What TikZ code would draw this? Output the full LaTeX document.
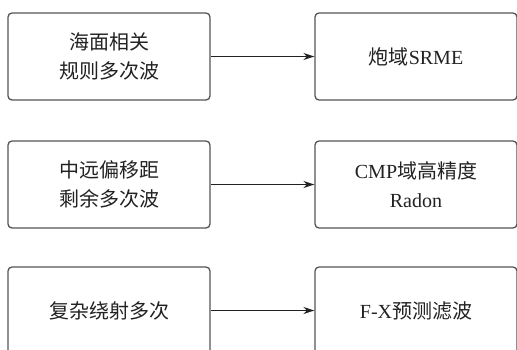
\documentclass[tikz,border=0pt]{standalone}
\usepackage{fontspec}
\setmainfont{Liberation Serif}
\newfontfamily\cjk{Noto Sans CJK SC}
\usetikzlibrary{arrows.meta}
\definecolor{edge}{HTML}{555555}
\definecolor{ink}{HTML}{222222}
\tikzset{
  box/.style={draw=edge, line width=1.3pt, rounded corners=4pt, minimum width=202pt, minimum height=87pt, inner sep=0pt, align=center, text=ink, font=\fontsize{20}{29}\selectfont},
  conn/.style={draw=ink, line width=1.3pt, -{Stealth[length=11pt,width=7pt]}}
}
\begin{document}
\begin{tikzpicture}[x=1pt,y=-1pt]
\clip (0,0) rectangle (517,349);
\useasboundingbox (0,0) rectangle (517,349);
\fill[white] (0,0) rectangle (517,349);
\node[box] (a1) at (109,56.5) {\cjk 海面相关\\\cjk 规则多次波};
\node[box] (b1) at (416,56.5) {{\cjk 炮域}SRME};
\node[box] (a2) at (109,184.5) {\cjk 中远偏移距\\\cjk 剩余多次波};
\node[box] (b2) at (416,184.5) {CMP{\cjk 域高精度}\\Radon};
\node[box] (a3) at (109,310.5) {\cjk 复杂绕射多次};
\node[box] (b3) at (416,310.5) {F-X{\cjk 预测滤波}};
\draw[conn] (a1) -- (b1);
\draw[conn] (a2) -- (b2);
\draw[conn] (a3) -- (b3);
\end{tikzpicture}
\end{document}
